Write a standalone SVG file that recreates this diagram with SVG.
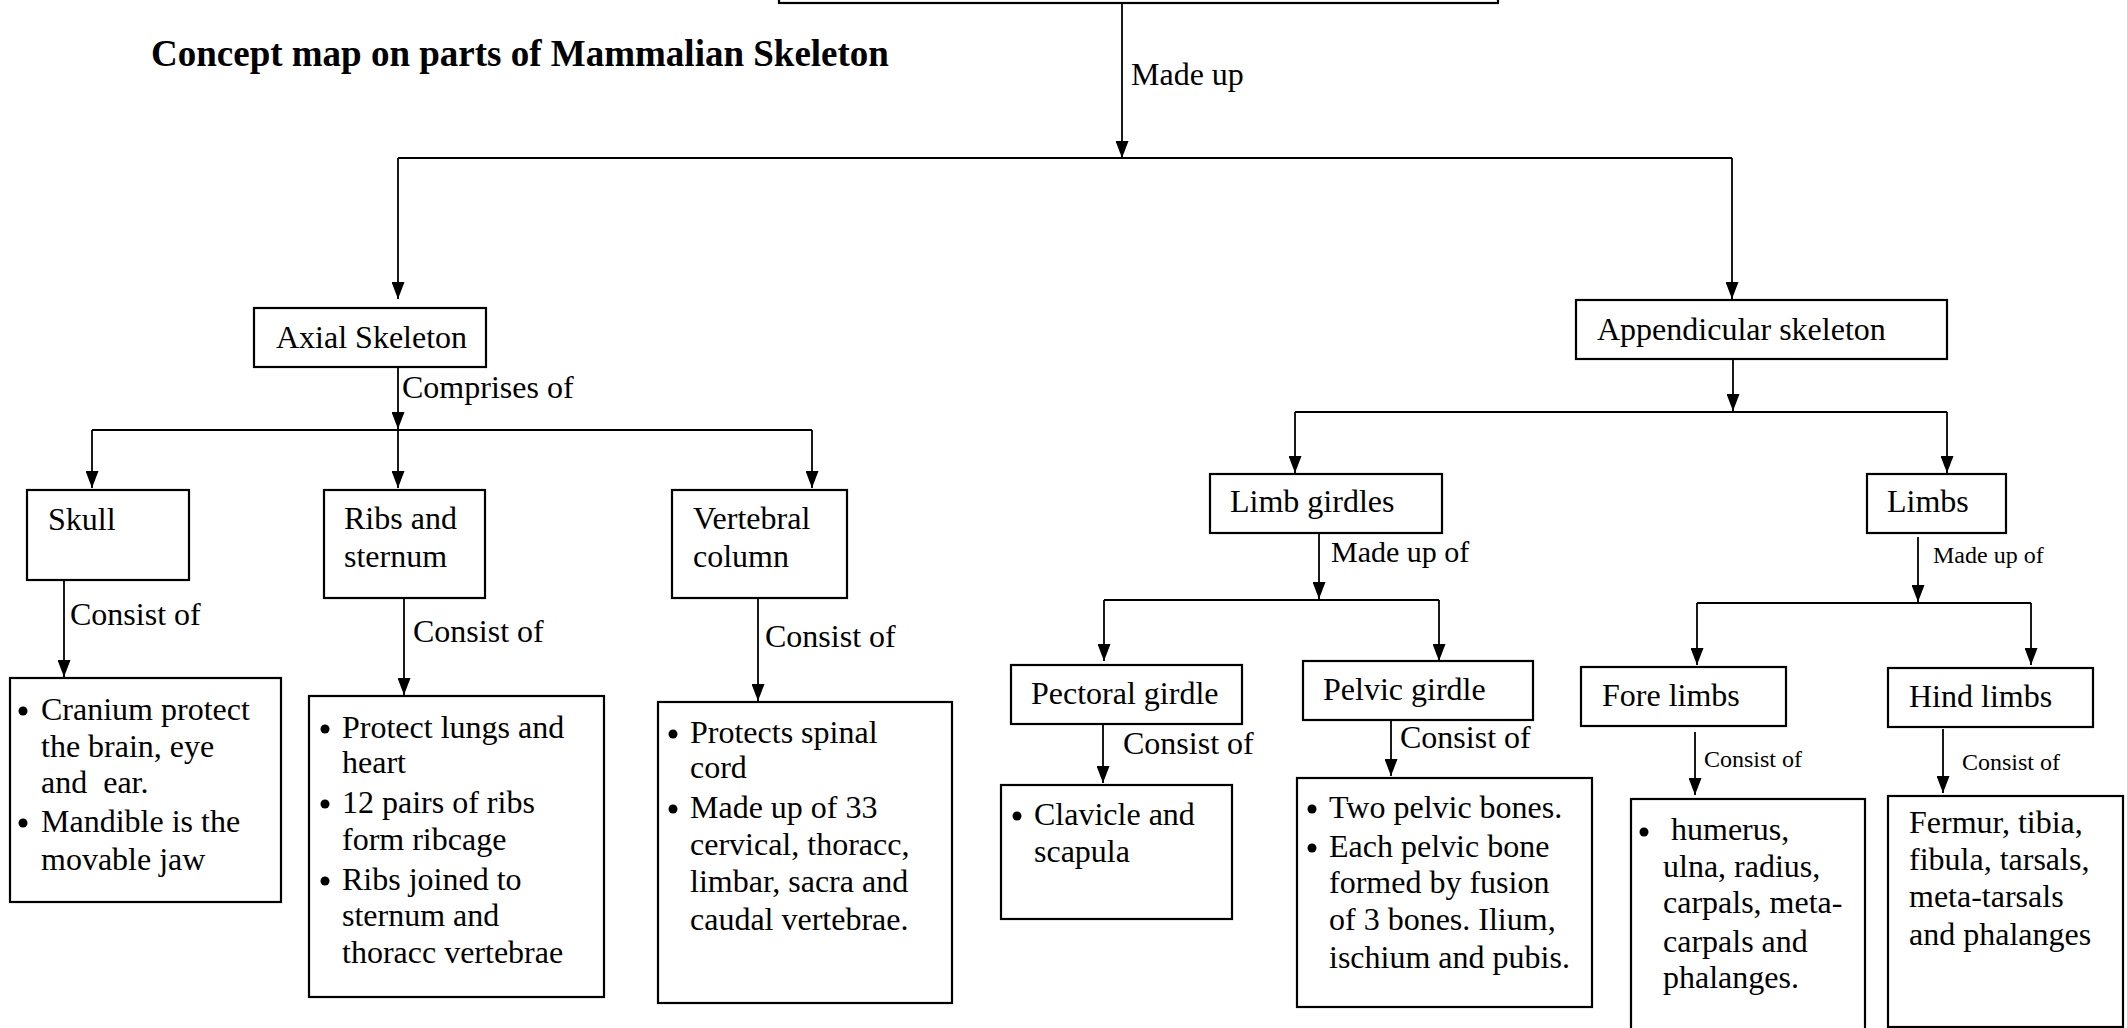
<svg xmlns="http://www.w3.org/2000/svg" width="2127" height="1028" viewBox="0 0 2127 1028">
<defs>
<marker id="ah" markerUnits="userSpaceOnUse" markerWidth="17" markerHeight="13" refX="17" refY="6.5" orient="auto" viewBox="0 0 17 13">
<path d="M0,0 L17,6.5 L0,13 z" fill="#000"/>
</marker>
<style>
.box{fill:#fff;stroke:#000;stroke-width:2.2}
.ln{fill:none;stroke:#000;stroke-width:1.8}
.ar{fill:none;stroke:#000;stroke-width:1.8;marker-end:url(#ah)}
.bul{fill:#000}
text{font-family:"Liberation Serif","Times New Roman",serif;font-size:32px;fill:#000}
.sm{font-size:24px}
.md{font-size:30px}
.title{font-weight:bold;font-size:37px}
</style>
</defs>
<rect width="2127" height="1028" fill="#fff"/>
<text class="title" x="151" y="66">Concept map on parts of Mammalian Skeleton</text>

<g id="connectors">
<path class="ar" d="M1122,3 V158"/>
<path class="ln" d="M398,158 H1732"/>
<path class="ar" d="M398,158 V299"/>
<path class="ar" d="M1732,158 V299"/>
<path class="ar" d="M398,367 V429"/>
<path class="ln" d="M92,430 H812"/>
<path class="ar" d="M92,430 V488"/>
<path class="ar" d="M398,430 V488"/>
<path class="ar" d="M812,430 V488"/>
<path class="ar" d="M64,580 V677"/>
<path class="ar" d="M404,598 V695"/>
<path class="ar" d="M758,598 V701"/>
<path class="ar" d="M1733,360 V411"/>
<path class="ln" d="M1295,412 H1947"/>
<path class="ar" d="M1295,412 V473"/>
<path class="ar" d="M1947,412 V473"/>
<path class="ar" d="M1319,533 V599"/>
<path class="ln" d="M1104,600 H1439"/>
<path class="ar" d="M1104,600 V661"/>
<path class="ar" d="M1439,600 V661"/>
<path class="ar" d="M1918,537 V602"/>
<path class="ln" d="M1697,603 H2031"/>
<path class="ar" d="M1697,603 V665"/>
<path class="ar" d="M2031,603 V665"/>
<path class="ar" d="M1103,724 V783"/>
<path class="ar" d="M1391,720 V776"/>
<path class="ar" d="M1695,732 V795"/>
<path class="ar" d="M1943,729 V793"/>
<text x="1131" y="85">Made up</text>
<text x="402" y="398">Comprises of</text>
<text x="70" y="625">Consist of</text>
<text x="413" y="642">Consist of</text>
<text x="765" y="647">Consist of</text>
<text class="md" x="1331" y="562">Made up of</text>
<text class="sm" x="1933" y="563">Made up of</text>
<text x="1123" y="754">Consist of</text>
<text x="1400" y="748">Consist of</text>
<text class="sm" x="1704" y="767">Consist of</text>
<text class="sm" x="1962" y="770">Consist of</text>
</g>

<g id="root"><rect class="box" x="779" y="-20" width="719" height="23"/></g>

<g id="axial"><rect class="box" x="254" y="308" width="232" height="59"/><text x="276" y="348">Axial Skeleton</text></g>
<g id="appendicular"><rect class="box" x="1576" y="300" width="371" height="59"/><text x="1597" y="340">Appendicular skeleton</text></g>

<g id="skull"><rect class="box" x="27" y="490" width="162" height="90"/><text x="48" y="530">Skull</text></g>
<g id="ribs"><rect class="box" x="324" y="490" width="161" height="108"/><text x="344" y="529">Ribs and</text><text x="344" y="567">sternum</text></g>
<g id="vertebral"><rect class="box" x="672" y="490" width="175" height="108"/><text x="693" y="529">Vertebral</text><text x="693" y="567">column</text></g>

<g id="skull-detail"><rect class="box" x="10" y="678" width="271" height="224"/>
<circle class="bul" cx="23" cy="711" r="4.5"/><text x="41" y="720">Cranium protect</text>
<text x="41" y="757">the brain, eye</text>
<text x="41" y="793" xml:space="preserve">and  ear.</text>
<circle class="bul" cx="23" cy="823" r="4.5"/><text x="41" y="832">Mandible is the</text>
<text x="41" y="870">movable jaw</text></g>

<g id="ribs-detail"><rect class="box" x="309" y="696" width="295" height="301"/>
<circle class="bul" cx="325" cy="729" r="4.5"/><text x="342" y="738">Protect lungs and</text>
<text x="342" y="773">heart</text>
<circle class="bul" cx="325" cy="804" r="4.5"/><text x="342" y="813">12 pairs of ribs</text>
<text x="342" y="850">form ribcage</text>
<circle class="bul" cx="325" cy="881" r="4.5"/><text x="342" y="890">Ribs joined to</text>
<text x="342" y="926">sternum and</text>
<text x="342" y="963">thoracc vertebrae</text></g>

<g id="vertebral-detail"><rect class="box" x="658" y="702" width="294" height="301"/>
<circle class="bul" cx="673" cy="734" r="4.5"/><text x="690" y="743">Protects spinal</text>
<text x="690" y="778">cord</text>
<circle class="bul" cx="673" cy="809" r="4.5"/><text x="690" y="818">Made up of 33</text>
<text x="690" y="855">cervical, thoracc,</text>
<text x="690" y="892">limbar, sacra and</text>
<text x="690" y="930">caudal vertebrae.</text></g>

<g id="limb-girdles"><rect class="box" x="1210" y="474" width="232" height="59"/><text x="1230" y="512">Limb girdles</text></g>
<g id="limbs"><rect class="box" x="1867" y="474" width="139" height="59"/><text x="1887" y="512">Limbs</text></g>

<g id="pectoral"><rect class="box" x="1011" y="665" width="231" height="59"/><text x="1031" y="704">Pectoral girdle</text></g>
<g id="pelvic"><rect class="box" x="1303" y="661" width="230" height="59"/><text x="1323" y="700">Pelvic girdle</text></g>
<g id="fore"><rect class="box" x="1581" y="667" width="205" height="59"/><text x="1602" y="706">Fore limbs</text></g>
<g id="hind"><rect class="box" x="1888" y="668" width="205" height="59"/><text x="1909" y="707">Hind limbs</text></g>

<g id="pectoral-detail"><rect class="box" x="1001" y="785" width="231" height="134"/>
<circle class="bul" cx="1017" cy="816" r="4.5"/><text x="1034" y="825">Clavicle and</text>
<text x="1034" y="862">scapula</text></g>

<g id="pelvic-detail"><rect class="box" x="1297" y="778" width="295" height="229"/>
<circle class="bul" cx="1312" cy="809" r="4.5"/><text x="1329" y="818">Two pelvic bones.</text>
<circle class="bul" cx="1312" cy="848" r="4.5"/><text x="1329" y="857">Each pelvic bone</text>
<text x="1329" y="893">formed by fusion</text>
<text x="1329" y="930">of 3 bones. Ilium,</text>
<text x="1329" y="968">ischium and pubis.</text></g>

<g id="fore-detail"><rect class="box" x="1631" y="799" width="234" height="260"/>
<circle class="bul" cx="1644" cy="832" r="4.5"/><text x="1671" y="840">humerus,</text>
<text x="1663" y="877">ulna, radius,</text>
<text x="1663" y="913">carpals, meta-</text>
<text x="1663" y="952">carpals and</text>
<text x="1663" y="988">phalanges.</text></g>

<g id="hind-detail"><rect class="box" x="1888" y="796" width="235" height="231"/>
<text x="1909" y="833">Fermur, tibia,</text>
<text x="1909" y="870">fibula, tarsals,</text>
<text x="1909" y="907">meta-tarsals</text>
<text x="1909" y="945">and phalanges</text></g>
</svg>
